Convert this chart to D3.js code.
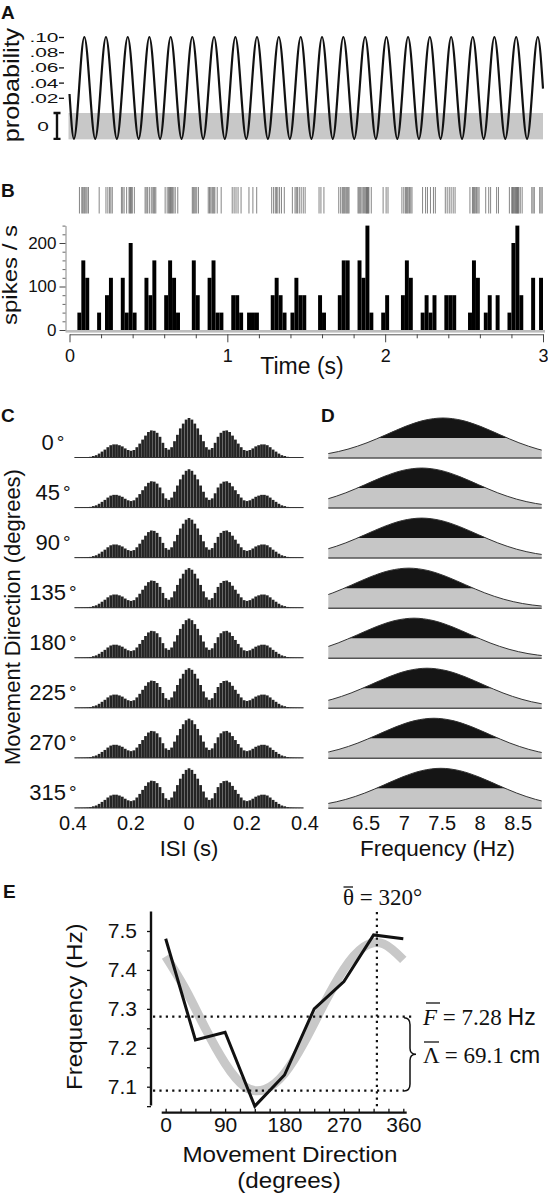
<!DOCTYPE html>
<html><head><meta charset="utf-8">
<script src="https://cdn.jsdelivr.net/npm/d3@7"></script>
<style>body{margin:0;background:#fff}svg{display:block}</style>
</head><body>
<svg id="fig" width="548" height="1200"></svg>
<script>
// ---------------- DATA ----------------
// Panel A: extrema of the modelled spike probability (time in s, probability)
const probT = [0, 0.028, 0.094, 0.163, 0.231, 0.300, 0.369, 0.438, 0.506, 0.574, 0.641, 0.710, 0.778, 0.847, 0.916, 0.984,
  1.051, 1.120, 1.188, 1.257, 1.326, 1.396, 1.465, 1.533, 1.600, 1.668, 1.735, 1.804, 1.873, 1.941, 2.008, 2.077,
  2.145, 2.214, 2.283, 2.351, 2.418, 2.487, 2.555, 2.624, 2.692, 2.761, 2.830, 2.899, 2.967, 3.0];
const probV = [0.025, -0.034, 0.10, -0.034, 0.10, -0.034, 0.10, -0.034, 0.10, -0.034, 0.10, -0.034, 0.10, -0.034, 0.10, -0.034,
  0.10, -0.034, 0.10, -0.034, 0.10, -0.034, 0.10, -0.034, 0.10, -0.034, 0.10, -0.034, 0.10, -0.034, 0.10, -0.034,
  0.10, -0.034, 0.10, -0.034, 0.10, -0.034, 0.10, -0.034, 0.10, -0.034, 0.10, -0.034, 0.10, 0.032];
const probTicks = [0.02, 0.04, 0.06, 0.08, 0.10];
const probTickLabels = ['.02', '.04', '.06', '.08', '.10'];

// Panel B: spike times (s)
const spikeTimes = [0.063, 0.078, 0.084, 0.091, 0.097, 0.104, 0.111, 0.120, 0.188, 0.231, 0.243, 0.254, 0.262, 0.271,
  0.329, 0.337, 0.346, 0.362, 0.377, 0.382, 0.387, 0.392, 0.398, 0.411, 0.479, 0.486, 0.495, 0.506, 0.518,
  0.528, 0.534, 0.540, 0.547, 0.606, 0.619, 0.628, 0.634, 0.640, 0.646, 0.653, 0.661, 0.670, 0.686,
  0.778, 0.784, 0.790, 0.797, 0.806, 0.817, 0.879, 0.887, 0.895, 0.903, 0.909, 0.915, 0.921, 0.936, 0.961,
  1.031, 1.043, 1.055, 1.068, 1.087, 1.137, 1.162, 1.186, 1.281, 1.293, 1.304, 1.312, 1.320, 1.331, 1.343, 1.361,
  1.412, 1.429, 1.437, 1.445, 1.456, 1.468, 1.481, 1.493, 1.581, 1.593, 1.612,
  1.706, 1.718, 1.728, 1.734, 1.740, 1.746, 1.753, 1.759, 1.765, 1.771,
  1.828, 1.834, 1.840, 1.846, 1.854, 1.862, 1.870, 1.877, 1.881, 1.885, 1.889, 1.893, 1.897, 1.912,
  1.987, 2.006, 2.018, 2.106, 2.118, 2.128, 2.134, 2.140, 2.146, 2.154, 2.162, 2.170,
  2.237, 2.256, 2.268, 2.287, 2.306, 2.318, 2.381, 2.393, 2.406, 2.418, 2.431, 2.443,
  2.537, 2.553, 2.559, 2.565, 2.571, 2.579, 2.587, 2.595, 2.637, 2.656, 2.668, 2.706, 2.718,
  2.787, 2.802, 2.807, 2.812, 2.817, 2.822, 2.827, 2.831, 2.835, 2.839, 2.843, 2.847, 2.856, 2.868,
  2.929, 2.937, 2.945, 2.979, 2.987, 2.995];
const binWidth = 0.025;
const rateTicks = [0, 100, 200];
const timeTicks = [0, 1, 2, 3];

// Panel C: ISI histogram profile (relative count at |ISI| = 0, 0.01, ... 0.39 s)
const isiProfile = [100, 96, 86, 74, 58, 42, 27, 21, 25, 38, 53, 63, 68, 69, 65, 56, 46, 36, 27, 20,
  18, 20, 24, 29, 32, 34, 34, 32, 27, 21, 16, 11, 7, 5, 3, 2, 1.5, 1.2, 1, 0.8];
const isiRowScale = [1.0, 0.97, 1.0, 1.0, 0.99, 1.0, 0.99, 1.0];
const isiTicks = [-0.4, -0.2, 0, 0.2, 0.4];
const isiTickLabels = ['0.4', '0.2', '0', '0.2', '0.4'];

// Movement directions
const directions = [0, 45, 90, 135, 180, 225, 270, 315];

// Panel D: frequency posterior per direction: peak (Hz) and shared shape
const freqPeak = [7.51, 7.23, 7.23, 7.06, 7.13, 7.30, 7.39, 7.48];
const shapeOffset = [-2, -1.75, -1.5, -1.25, -1, -0.75, -0.5, -0.25, 0, 0.25, 0.5, 0.75, 1, 1.25, 1.5, 1.75, 2];
const shapeHeight = [0.021, 0.052, 0.114, 0.222, 0.381, 0.581, 0.786, 0.941, 1, 0.941, 0.786, 0.581, 0.381, 0.222, 0.114, 0.052, 0.021];
const freqTicks = [6.5, 7, 7.5, 8, 8.5];

// Panel E
const eDir = [0, 45, 90, 135, 180, 225, 270, 315, 360];
const eFreq = [7.48, 7.22, 7.24, 7.05, 7.13, 7.30, 7.37, 7.49, 7.48];
const fitDir = [0, 30, 60, 90, 120, 150, 180, 210, 240, 270, 300, 330, 360];
const fitFreq = [7.435, 7.35, 7.25, 7.16, 7.10, 7.093, 7.134, 7.215, 7.313, 7.402, 7.459, 7.467, 7.426];
const meanFreq = 7.28, minFreq = 7.09, prefDir = 320;
const eDirTicks = [0, 90, 180, 270, 360];

// ---------------- DRAWING ----------------
const svg = d3.select('#fig');
const SANS = '"Liberation Sans", Arial, Helvetica, sans-serif';
const SERIF = '"Liberation Serif", "Times New Roman", Times, serif';
const INK = '#111';

function txt(g, x, y, s, o = {}) {
  let tr = `translate(${x},${y})`;
  if (o.sx || o.sy) tr += ` scale(${o.sx || 1},${o.sy || 1})`;
  if (o.rot) tr += ` rotate(${o.rot})`;
  return g.append('text').attr('transform', tr)
    .attr('text-anchor', o.anchor || 'start')
    .attr('font-family', o.family || SANS)
    .attr('font-size', o.size || 20)
    .attr('font-weight', o.weight || 'normal')
    .attr('font-style', o.style || 'normal')
    .attr('fill', INK)
    .text(s);
}

// ===== Panel A =====
const gA = svg.append('g');
const xT = d3.scaleLinear().domain([0, 3]).range([69.5, 543]);
const yP = d3.scaleLinear().domain([0, 0.10]).range([113, 37]);
const pMin = d3.min(probV);
gA.append('rect').attr('x', xT(0) - 1).attr('y', yP(0))
  .attr('width', xT(3) - xT(0) + 1).attr('height', yP(pMin) - yP(0) + 0.5).attr('fill', '#c8c8c8');
gA.append('path')
  .datum(probT.map((t, i) => [t, probV[i]]))
  .attr('d', d3.line().x(d => xT(d[0])).y(d => yP(d[1])).curve(d3.curveMonotoneX))
  .attr('fill', 'none').attr('stroke', INK).attr('stroke-width', 2.2);
const axA = gA.append('g').attr('transform', 'translate(64,0)')
  .call(d3.axisLeft(yP).tickValues(probTicks).tickFormat('').tickSize(5).tickSizeOuter(0));
axA.select('.domain').remove();
axA.selectAll('line').attr('stroke', INK).attr('stroke-width', 1.3);
probTicks.forEach((v, i) => txt(gA, 58.5, yP(v) + 5, probTickLabels[i], {anchor: 'end', size: 13.5, sx: 1.55}));
// zero bracket over the grey band
const bx = 57;
gA.append('path')
  .attr('d', `M${bx - 3.5},${yP(0)} H${bx + 3.5} M${bx},${yP(0)} V${yP(pMin)} M${bx - 3.5},${yP(pMin)} H${bx + 3.5}`)
  .attr('stroke', INK).attr('stroke-width', 2.4).attr('fill', 'none');
txt(gA, 49, (yP(0) + yP(pMin)) / 2 + 5, '0', {anchor: 'end', size: 13.5, sx: 1.55});
txt(gA, 19, 85, 'probability', {anchor: 'middle', size: 22, sy: 1.14, rot: -90});
txt(gA, 1, 19, 'A', {size: 19, weight: 'bold'});

// ===== Panel B =====
const gB = svg.append('g');
txt(gB, 1, 197, 'B', {size: 19, weight: 'bold'});
// raster
gB.selectAll('line.spk').data(spikeTimes).join('line').attr('class', 'spk')
  .attr('x1', d => xT(d)).attr('x2', d => xT(d)).attr('y1', 187).attr('y2', 213.5)
  .attr('stroke', '#555').attr('stroke-width', 0.9).attr('stroke-opacity', 0.8);
// histogram
const yR = d3.scaleLinear().domain([0, 240]).range([330, 225.6]);
const bins = d3.bin().domain([0, 3])
  .thresholds(d3.range(1, 120).map(i => i * binWidth))(spikeTimes);
gB.append('rect').attr('x', 65.5).attr('y', 330).attr('width', 545 - 65.5).attr('height', 2.6).attr('fill', '#bdbdbd');
gB.selectAll('rect.bar').data(bins.filter(b => b.length > 0)).join('rect').attr('class', 'bar')
  .attr('x', b => xT(b.x0)).attr('width', b => xT(b.x1) - xT(b.x0))
  .attr('y', b => yR(b.length / binWidth)).attr('height', b => yR(0) - yR(b.length / binWidth))
  .attr('fill', '#000');
const axBY = gB.append('g').attr('transform', 'translate(65.5,0)')
  .call(d3.axisLeft(yR).tickValues(d3.range(0, 241, 20)).tickFormat(d => rateTicks.includes(d) ? d : '')
    .tickSize(3).tickSizeOuter(0).tickPadding(6));
axBY.select('.domain').attr('stroke', '#888').attr('stroke-width', 1);
axBY.selectAll('line').attr('stroke', '#666');
axBY.selectAll('.tick').filter(d => rateTicks.includes(d)).select('line').attr('x2', -6).attr('stroke', '#444');
axBY.selectAll('text').attr('font-size', 17).attr('font-family', SANS).attr('fill', INK);
const axBX = gB.append('g').attr('transform', 'translate(0,334.3)')
  .call(d3.axisBottom(xT).tickValues(d3.range(16).map(i => i / 5)).tickFormat(d => timeTicks.includes(d) ? d : '')
    .tickSize(4).tickSizeOuter(0).tickPadding(11));
axBX.select('.domain').attr('stroke', '#555').attr('stroke-width', 1);
axBX.selectAll('line').attr('stroke', '#444');
axBX.selectAll('.tick').filter(d => timeTicks.includes(d)).select('line').attr('y2', 8);
axBX.selectAll('text').attr('font-size', 18).attr('font-family', SANS).attr('fill', INK);
txt(gB, 17, 275, 'spikes / s', {anchor: 'middle', size: 20, sy: 1.2, rot: -90});
txt(gB, 302, 373.5, 'Time (s)', {anchor: 'middle', size: 23});

// ===== Panel C =====
const gC = svg.append('g');
txt(gC, 1, 422, 'C', {size: 19, weight: 'bold'});
const xI = d3.scaleLinear().domain([-0.4, 0.4]).range([73, 305]);
const rowY = d3.scaleLinear().domain([0, 7]).range([458, 808.3]);
const hI = d3.scaleLinear().domain([0, 100]).range([0, 40]);
const isiCenters = d3.range(-39, 40).map(i => i / 100);
const isiValues = isiCenters.map(t => isiProfile[Math.round(Math.abs(t) * 100)]);
directions.forEach((dir, r) => {
  const base = rowY(r);
  const g = gC.append('g');
  g.selectAll('rect').data(isiCenters).join('rect')
    .attr('x', t => xI(t - 0.005) + 0.1).attr('width', xI(0.01) - xI(0) - 0.18)
    .attr('y', (t, i) => base - hI(isiValues[i] * isiRowScale[r]))
    .attr('height', (t, i) => hI(isiValues[i] * isiRowScale[r]))
    .attr('fill', '#242424');
  g.append('line').attr('x1', xI(-0.395)).attr('x2', xI(0.395)).attr('y1', base - 0.5).attr('y2', base - 0.5)
    .attr('stroke', '#333').attr('stroke-width', 1);
  const lab = txt(gC, 53, base - 8, String(dir), {anchor: 'middle', size: 22});
  lab.append('tspan').attr('dx', 3).attr('dy', -1).attr('font-size', 19).text('°');
});
isiTicks.forEach((v, i) => txt(gC, xI(v), 830, isiTickLabels[i], {anchor: 'middle', size: 20}));
txt(gC, xI(0), 856, 'ISI (s)', {anchor: 'middle', size: 22});
txt(gC, 20, 617, 'Movement Direction (degrees)', {anchor: 'middle', size: 22, rot: -90});

// ===== Panel D =====
const gD = svg.append('g');
txt(gD, 321, 422, 'D', {size: 19, weight: 'bold'});
const xF = d3.scaleLinear().domain([6.0, 8.81]).range([328.3, 541.7]);
const hD = d3.scaleLinear().domain([0, 1]).range([0, 40]);
const defs = svg.append('defs');
defs.append('clipPath').attr('id', 'dclip').append('rect')
  .attr('x', xF(6.0)).attr('y', 380).attr('width', xF(8.81) - xF(6.0)).attr('height', 440);
freqPeak.forEach((pk, r) => {
  const base = rowY(r);
  const pts = shapeOffset.map((o, i) => [pk + o, shapeHeight[i]]);
  const area = d3.area().x(d => xF(d[0])).y0(base).y1(d => base - hD(d[1])).curve(d3.curveMonotoneX);
  const line = d3.line().x(d => xF(d[0])).y(d => base - hD(d[1])).curve(d3.curveMonotoneX);
  defs.append('clipPath').attr('id', 'dtop' + r).append('rect')
    .attr('x', xF(6.0)).attr('y', base - 50).attr('width', xF(8.81) - xF(6.0)).attr('height', 50 - hD(0.5));
  const g = gD.append('g').attr('clip-path', 'url(#dclip)');
  g.append('path').datum(pts).attr('d', area).attr('fill', '#c6c6c6');
  g.append('g').attr('clip-path', `url(#dtop${r})`)
    .append('path').datum(pts).attr('d', area).attr('fill', '#151515');
  g.append('path').datum(pts).attr('d', line).attr('fill', 'none').attr('stroke', '#333').attr('stroke-width', 1);
  gD.append('line').attr('x1', xF(6.0)).attr('x2', xF(8.81)).attr('y1', base).attr('y2', base)
    .attr('stroke', '#555').attr('stroke-width', 1.5);
});
freqTicks.forEach(v => txt(gD, xF(v), 830, String(v), {anchor: 'middle', size: 20}));
txt(gD, 437.5, 856, 'Frequency (Hz)', {anchor: 'middle', size: 22.5});

// ===== Panel E =====
const gE = svg.append('g');
txt(gE, 3, 898, 'E', {size: 19, weight: 'bold'});
const xE = d3.scaleLinear().domain([0, 360]).range([165.7, 403.3]);
const yE = d3.scaleLinear().domain([7.1, 7.5]).range([1086.7, 931]);
// fitted curve
gE.append('path').datum(fitDir.map((d, i) => [d, fitFreq[i]]))
  .attr('d', d3.line().x(d => xE(d[0])).y(d => yE(d[1])).curve(d3.curveNatural))
  .attr('fill', 'none').attr('stroke', '#c8c8c8').attr('stroke-width', 9);
// dotted guides
const dots = {stroke: INK, 'stroke-width': 2.2, 'stroke-dasharray': '2.2 4.2'};
function dotted(x1, y1, x2, y2) {
  const l = gE.append('line').attr('x1', x1).attr('y1', y1).attr('x2', x2).attr('y2', y2);
  Object.entries(dots).forEach(([k, v]) => l.attr(k, v));
}
dotted(153, yE(meanFreq), 414, yE(meanFreq));
dotted(153, yE(minFreq), 404, yE(minFreq));
dotted(xE(prefDir), 912, xE(prefDir), 1110);
// data line
gE.append('path').datum(eDir.map((d, i) => [d, eFreq[i]]))
  .attr('d', d3.line().x(d => xE(d[0])).y(d => yE(d[1])))
  .attr('fill', 'none').attr('stroke', INK).attr('stroke-width', 3).attr('stroke-linejoin', 'miter');
// axes
const axEY = gE.append('g').attr('transform', 'translate(151,0)')
  .call(d3.axisLeft(yE).tickValues(d3.range(10).map(i => 7.05 + i * 0.05))
    .tickFormat(d => Math.round(d * 100) % 10 === 0 ? d.toFixed(1) : '').tickSize(4).tickSizeOuter(0).tickPadding(10));
axEY.select('.domain').remove();
axEY.selectAll('line').attr('stroke', INK).attr('stroke-width', 1.3);
axEY.selectAll('text').attr('font-size', 21).attr('font-family', SANS).attr('fill', INK);
gE.append('line').attr('x1', 151).attr('x2', 151).attr('y1', 911.5).attr('y2', 1105.5)
  .attr('stroke', INK).attr('stroke-width', 2.4);
const axEX = gE.append('g').attr('transform', 'translate(0,1112.7)')
  .call(d3.axisBottom(xE).tickValues(d3.range(17).map(i => i * 22.5))
    .tickFormat(d => eDirTicks.includes(d) ? d : '').tickSize(-4).tickSizeOuter(0).tickPadding(4));
axEX.select('.domain').remove();
axEX.selectAll('line').attr('stroke', INK).attr('stroke-width', 1.3);
axEX.selectAll('text').attr('font-size', 21).attr('font-family', SANS).attr('fill', INK);
gE.append('line').attr('x1', 161.7).attr('x2', 406.7).attr('y1', 1112.7).attr('y2', 1112.7)
  .attr('stroke', INK).attr('stroke-width', 2.2);
txt(gE, 81.5, 1006.7, 'Frequency (Hz)', {anchor: 'middle', size: 22, sy: 1.1, rot: -90});
txt(gE, 290, 1161.5, 'Movement Direction', {anchor: 'middle', size: 22, sx: 1.1});
txt(gE, 289, 1187.5, '(degrees)', {anchor: 'middle', size: 22, sx: 1.1});
// annotations
const t1 = txt(gE, 343, 905, 'θ', {family: SERIF, size: 23});
t1.append('tspan').text(' = ' + prefDir + '°');
gE.append('line').attr('x1', 343.5).attr('x2', 353).attr('y1', 887).attr('y2', 887).attr('stroke', INK).attr('stroke-width', 1.3);
const t2 = txt(gE, 423, 1025, 'F', {family: SERIF, size: 23, style: 'italic'});
t2.append('tspan').attr('font-style', 'normal').text(' = ' + meanFreq.toFixed(2) + ' ');
t2.append('tspan').attr('font-style', 'normal').attr('font-family', SANS).text('Hz');
gE.append('line').attr('x1', 426).attr('x2', 440).attr('y1', 1003).attr('y2', 1003).attr('stroke', INK).attr('stroke-width', 1.3);
const t3 = txt(gE, 423, 1063, 'Λ', {family: SERIF, size: 23});
t3.append('tspan').text(' = 69.1 ');
t3.append('tspan').attr('font-family', SANS).text('cm');
gE.append('line').attr('x1', 424).attr('x2', 439).attr('y1', 1042).attr('y2', 1042).attr('stroke', INK).attr('stroke-width', 1.3);
// brace
const bTop = yE(meanFreq) + 1, bBot = yE(minFreq) + 0.5, bMid = (bTop + bBot) / 2;
gE.append('path')
  .attr('d', `M404,${bTop} Q410,${bTop} 410,${bTop + 7} L410,${bMid - 6} Q410,${bMid} 416,${bMid} Q410,${bMid} 410,${bMid + 6} L410,${bBot - 7} Q410,${bBot} 404,${bBot}`)
  .attr('fill', 'none').attr('stroke', INK).attr('stroke-width', 1.5);
</script>
</body></html>
